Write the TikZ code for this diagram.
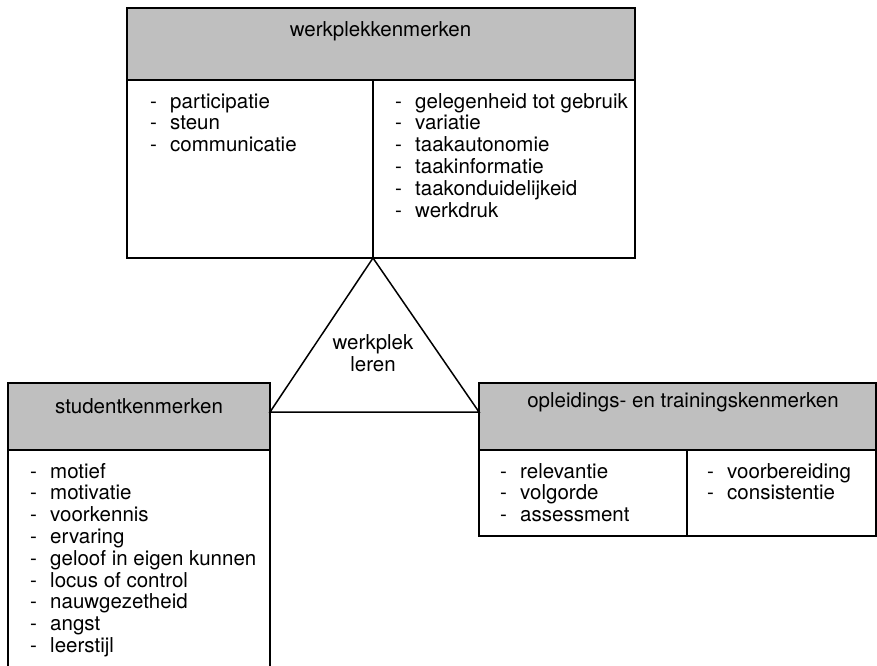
\documentclass[tikz,border=0pt]{standalone}
\usepackage{fontspec}
\setmainfont{TeX Gyre Heros}
\usetikzlibrary{positioning}

\begin{document}
\begin{tikzpicture}[x=1pt,y=-1pt,
every node/.style={font=\fontsize{20.5}{21.8}\selectfont},
vak/.style={draw=black,line width=1.5pt,anchor=north west,inner sep=0pt,outer sep=0pt},
kop/.style={vak,fill=black!25},
titel/.style={anchor=base,inner sep=0pt},
lijst/.style={anchor=base west,inner sep=0pt}
]
\useasboundingbox (0,0) rectangle (877,665);
% werkplek
\node[kop,minimum width=508,minimum height=72] (wpk) at (127,8) {};
\node[vak,minimum width=246,minimum height=178] (wpl) at (127,80) {};
\node[vak,minimum width=262,minimum height=178] (wpr) at (373,80) {};
\node[titel] (wpt) at (380.5,36) {werkplekkenmerken};
\node[lijst] (wpla) at (150,108) {\begin{tabular}[t]{@{}l@{\hspace{13.2pt}}l@{}}
-&participatie\\-&steun\\-&communicatie\end{tabular}};
\node[lijst] (wpra) at (395,108) {\begin{tabular}[t]{@{}l@{\hspace{13.2pt}}l@{}}
-&gelegenheid tot gebruik\\-&variatie\\-&taakautonomie\\-&taakinformatie\\
-&taakonduidelijkeid\\-&werkdruk\end{tabular}};
% student
\node[kop,minimum width=262,minimum height=67] (stk) at (8,383) {};
\node[vak,minimum width=262,minimum height=222] (stl) at (8,450) {};
\node[titel] (stt) at (139,413) {studentkenmerken};
\node[lijst] (stla) at (30,478) {\begin{tabular}[t]{@{}l@{\hspace{13.2pt}}l@{}}
-&motief\\-&motivatie\\-&voorkennis\\-&ervaring\\-&geloof in eigen kunnen\\
-&locus of control\\-&nauwgezetheid\\-&angst\\-&leerstijl\end{tabular}};
% opleiding
\node[kop,minimum width=397,minimum height=67] (opk) at (479,383) {};
\node[vak,minimum width=208,minimum height=86] (opl) at (479,450) {};
\node[vak,minimum width=189,minimum height=86] (opr) at (687,450) {};
\node[titel] (opt) at (683,407) {opleidings- en trainingskenmerken};
\node[lijst] (opla) at (500,478) {\begin{tabular}[t]{@{}l@{\hspace{13.2pt}}l@{}}
-&relevantie\\-&volgorde\\-&assessment\end{tabular}};
\node[lijst] (opra) at (707,478) {\begin{tabular}[t]{@{}l@{\hspace{13.2pt}}l@{}}
-&voorbereiding\\-&consistentie\end{tabular}};
% driehoek
\draw[line width=1.5pt] (wpl.south east) -- ([yshift=4.5pt]stk.east)
  -- ([yshift=4.5pt]opk.west) -- cycle;
\node[align=center,inner sep=0pt] (wl) at (373,353) {werkplek\\leren};
\end{tikzpicture}
\end{document}
